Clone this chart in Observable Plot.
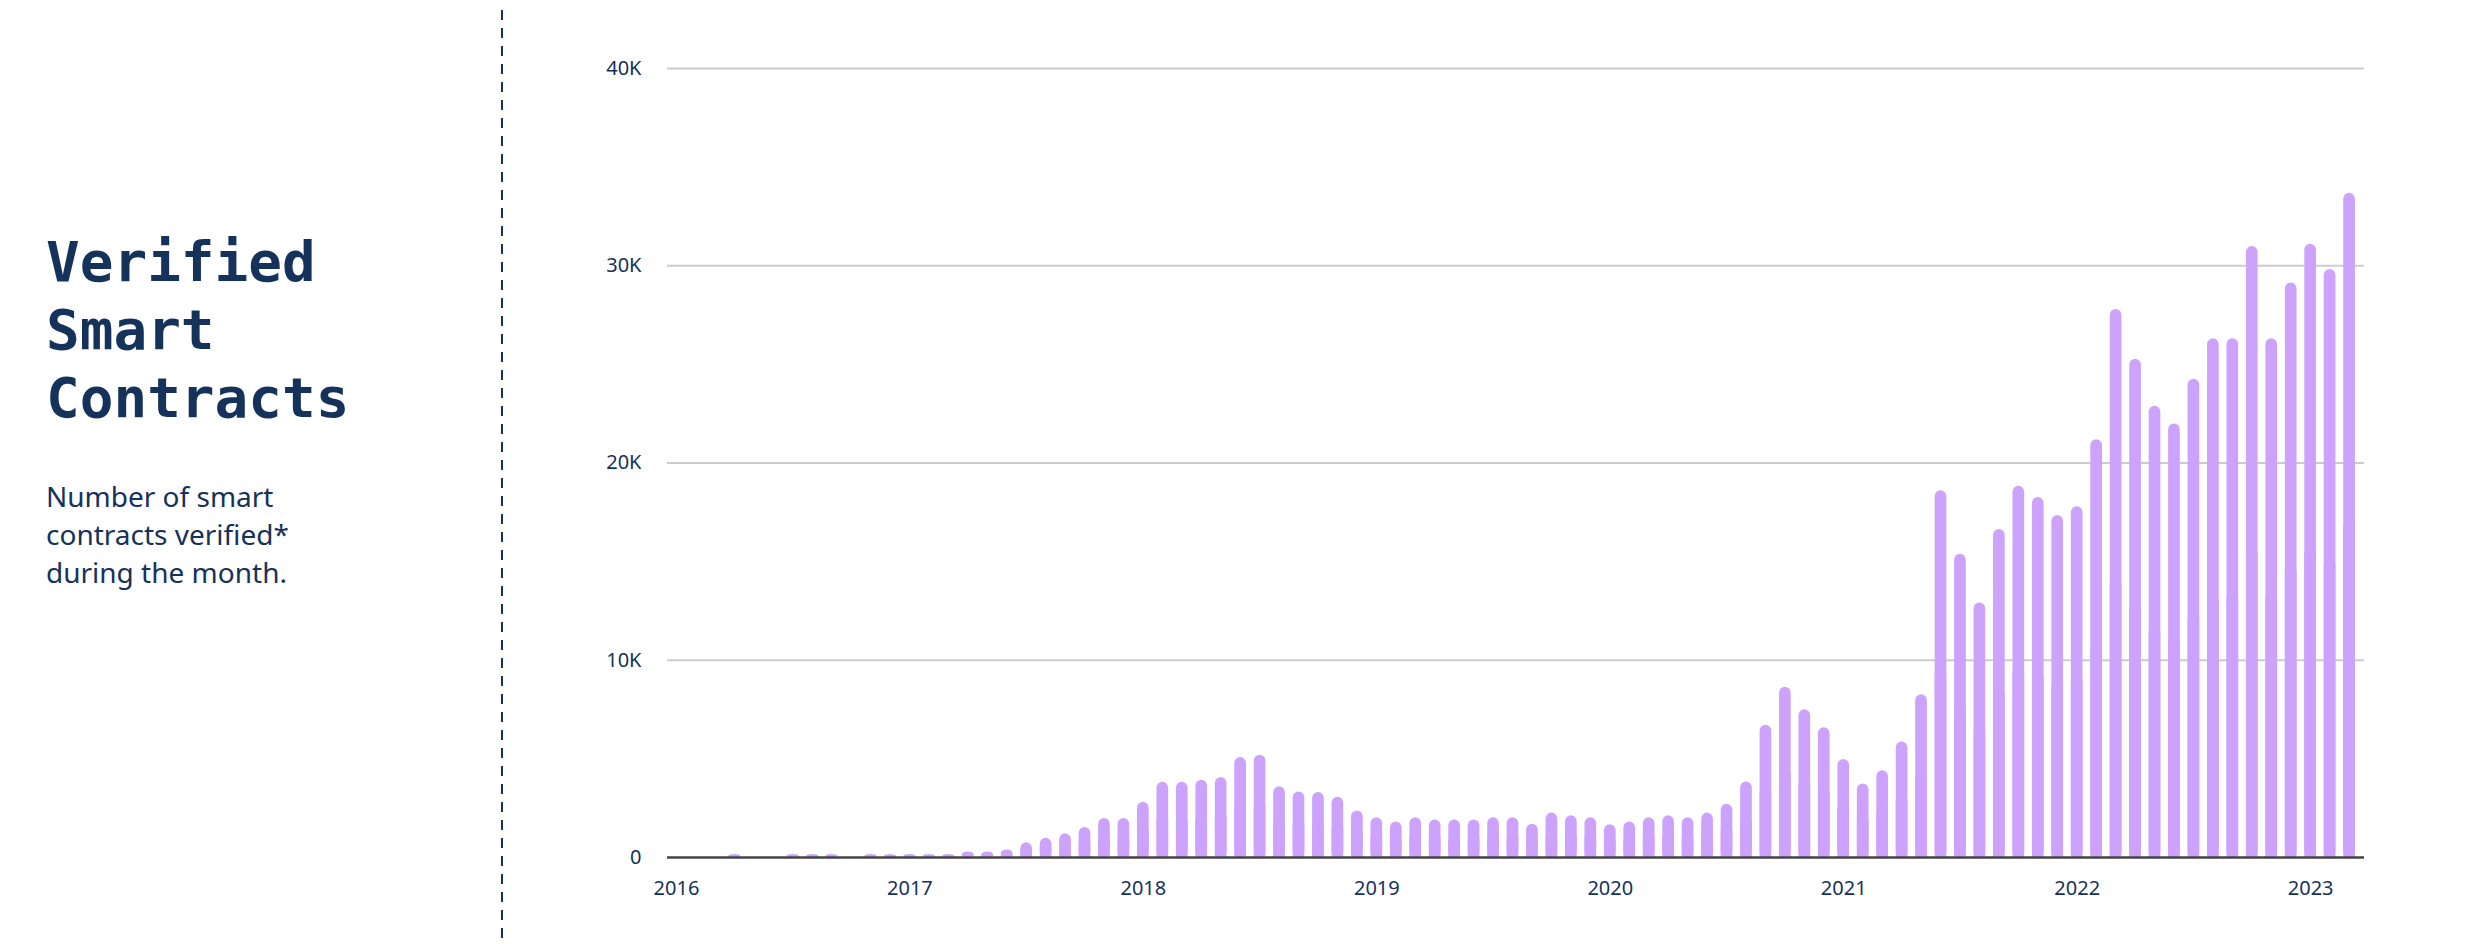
<!DOCTYPE html>
<html>
<head>
<meta charset="utf-8">
<script src="https://cdn.jsdelivr.net/npm/d3@7"></script>
<script src="https://cdn.jsdelivr.net/npm/@observablehq/plot@0.6"></script>
<style>
  html, body { margin: 0; padding: 0; background: #ffffff; }
  #wrap { position: relative; width: 2484px; height: 944px; overflow: hidden; background: #fff; }
  #chart { position: absolute; left: 0; top: 0; }
  #title {
    position: absolute; left: 46px; top: 228px; margin: 0;
    font-family: "DejaVu Sans Mono", monospace; font-weight: bold;
    font-size: 56px; line-height: 68px; color: #15325a;
  }
  #subtitle {
    position: absolute; left: 46px; top: 477px; margin: 0;
    font-family: "Noto Sans", sans-serif; font-size: 28px; line-height: 38px; color: #15325a;
  }
  #divider { position: absolute; left: 0; top: 0; }
</style>
</head>
<body>
<div id="wrap">
  <div id="chart"></div>
  <svg id="divider" width="520" height="944"><line x1="502" x2="502" y1="10" y2="944" stroke="#15325a" stroke-width="2" stroke-dasharray="10 8"></line></svg>
  <h1 id="title">Verified<br>Smart<br>Contracts</h1>
  <p id="subtitle">Number of smart<br>contracts verified*<br>during the month.</p>
</div>
<script>
// Categories: every month from Jan 2016 to Mar 2023
const months = d3.utcMonth.range(new Date(Date.UTC(2016, 0, 1)), new Date(Date.UTC(2023, 3, 1)))
  .map(d => d3.utcFormat("%Y-%m")(d));

// Monthly verified contracts
const values2016 = [0, 0, 0, 150, 0, 0, 150, 150, 150, 0, 150, 150];
const values2017 = [150, 150, 150, 280, 280, 380, 750, 980, 1200, 1520, 1980, 1980];
const values2018 = [2800, 3810, 3810, 3920, 4050, 5070, 5190, 3590, 3320, 3300, 3060, 2355];
const values2019 = [2020, 1800, 2020, 1900, 1900, 1900, 2020, 2020, 1680, 2250, 2120, 2020];
const values2020 = [1660, 1800, 2020, 2120, 2020, 2250, 2700, 3830, 6700, 8630, 7490, 6580];
const values2021 = [4970, 3730, 4400, 5850, 8250, 18590, 15380, 12900, 16630, 18820, 18250, 17340];
const values2022 = [17780, 21180, 27780, 25260, 22880, 21980, 24250, 26300, 26300, 30970, 26300, 29130];
const values2023 = [31090, 29810, 33680];

const values = [...values2016, ...values2017, ...values2018, ...values2019,
                ...values2020, ...values2021, ...values2022, ...values2023];

const yTicks = [0, 10000, 20000, 30000, 40000];
const gridTicks = [10000, 20000, 30000, 40000];
const yearTicks = ["2016-01", "2017-01", "2018-01", "2019-01", "2020-01", "2021-01", "2022-01", "2023-01"];

const data = months.map((m, i) => ({month: m, value: values[i]}));

const navy = "#15325a";
const barColor = "#cda2fc";

const chart = Plot.plot({
  width: 2484,
  height: 944,
  marginLeft: 667,
  marginRight: 120,
  marginTop: 68,
  marginBottom: 87,
  style: {fontFamily: "Noto Sans, sans-serif", fontSize: "20px", color: navy, background: "transparent"},
  x: {
    type: "band",
    domain: months,
    range: [667, 2358],
    paddingInner: 0.4,
    paddingOuter: 0.16,
    ticks: yearTicks,
    tickFormat: m => m.slice(0, 4),
    tickSize: 0,
    tickPadding: 23,
    label: null
  },
  y: {
    domain: [0, 40000],
    ticks: yTicks,
    tickFormat: d => d === 0 ? "0" : (d / 1000) + "K",
    tickSize: 0,
    tickPadding: 26,
    label: null
  },
  marks: [
    Plot.ruleY(gridTicks, {stroke: "#cccccc", strokeWidth: 2}),
    Plot.barY(data, {x: "month", y: "value", fill: barColor, rx: 6}),
    Plot.barY(data, {x: "month", y: d => d.value / 2, fill: barColor}),
    Plot.ruleY([0], {stroke: "#444444", strokeWidth: 2.5})
  ]
});
document.getElementById("chart").appendChild(chart);
</script>
</body>
</html>
